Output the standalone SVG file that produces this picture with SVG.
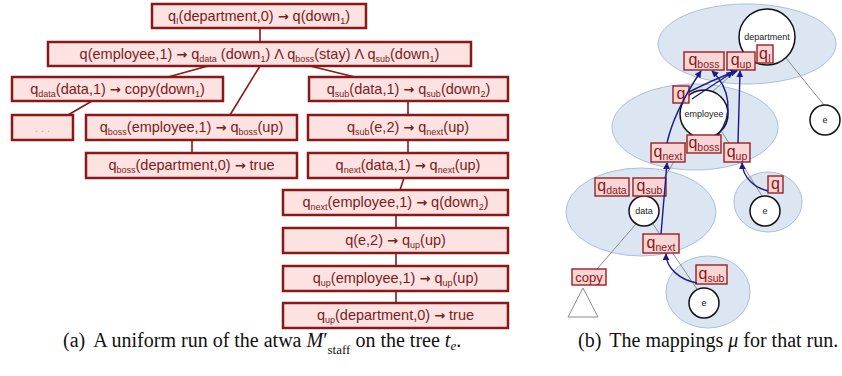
<svg xmlns="http://www.w3.org/2000/svg" width="842" height="376" viewBox="0 0 842 376">
  <defs>
    <marker id="ah" viewBox="0 0 10 10" refX="9" refY="5" markerWidth="5" markerHeight="5" orient="auto-start-reverse">
      <path d="M0,0 L10,5 L0,10 z" fill="#1b1b8a"/>
    </marker>
    <style>
      .rule rect { fill: #fde2e2; stroke: #8a1818; stroke-width: 2.5; }
      .rule text { font-family: "Liberation Sans", Arial, sans-serif; font-size: 14.5px; fill: #7a1c1c; text-anchor: middle; }
      .sb { font-size: 9px; baseline-shift: -3px; }
      .ar { font-family: "DejaVu Sans", sans-serif; font-size: 13px; font-weight: bold; }
      .edge { stroke: #8a1818; stroke-width: 1.6; fill: none; }
      .region { fill: #dce6f3; stroke: #a9c0de; stroke-width: 1; }
      .tree { stroke: #8c8c8c; stroke-width: 1; fill: none; }
      .node circle { fill: #ffffff; stroke: #111111; stroke-width: 1.5; }
      .node text { font-family: "Liberation Sans", Arial, sans-serif; font-size: 9px; fill: #222222; text-anchor: middle; }
      .st rect { fill: #f9d6d6; stroke: #9a1e1e; stroke-width: 1.4; }
      .st text { font-family: "Liberation Sans", Arial, sans-serif; font-size: 16px; fill: #8a1818; text-anchor: middle; }
      .st .s { font-size: 10.5px; baseline-shift: -3px; }
      .mu { stroke: #1b1b8a; stroke-width: 1.4; fill: none; marker-end: url(#ah); }
      .cap { font-family: "Liberation Serif", "Times New Roman", serif; font-size: 20px; fill: #111111; }
    </style>
  </defs>

  <!-- (a) run tree: connectors -->
  <g id="run-connectors">
    <line class="edge" x1="260" y1="28" x2="260" y2="42"/>
    <line class="edge" x1="208" y1="66" x2="168" y2="77"/>
    <line class="edge" x1="92" y1="101" x2="68" y2="115"/>
    <line class="edge" x1="260" y1="66" x2="230" y2="115"/>
    <line class="edge" x1="192" y1="140" x2="192" y2="153"/>
    <line class="edge" x1="310" y1="66" x2="355" y2="77"/>
    <line class="edge" x1="408" y1="101" x2="408" y2="115"/>
    <line class="edge" x1="408" y1="140" x2="408" y2="153"/>
    <line class="edge" x1="404" y1="178" x2="400" y2="190"/>
    <line class="edge" x1="396" y1="215" x2="396" y2="228"/>
    <line class="edge" x1="396" y1="253" x2="396" y2="266"/>
    <line class="edge" x1="396" y1="291" x2="396" y2="303"/>
  </g>

  <!-- (a) run tree: rules -->
  <g id="r1" class="rule"><rect x="152" y="4" width="214" height="24"/>
    <text x="259" y="21">q<tspan class="sb">I</tspan>(department,0) <tspan class="ar">→</tspan> q(down<tspan class="sb">1</tspan>)</text></g>
  <g id="r2" class="rule"><rect x="48" y="42" width="423" height="24"/>
    <text x="259.5" y="59">q(employee,1) <tspan class="ar">→</tspan> q<tspan class="sb">data</tspan> (down<tspan class="sb">1</tspan>) Λ q<tspan class="sb">boss</tspan>(stay) Λ q<tspan class="sb">sub</tspan>(down<tspan class="sb">1</tspan>)</text></g>
  <g id="r3" class="rule"><rect x="12" y="77" width="211" height="24"/>
    <text x="117.5" y="94">q<tspan class="sb">data</tspan>(data,1) <tspan class="ar">→</tspan> copy(down<tspan class="sb">1</tspan>)</text></g>
  <g id="r4" class="rule"><rect x="12" y="115" width="61" height="25"/>
    <text x="42.5" y="132" style="fill:#b9a2a2;font-size:11px">. . .</text></g>
  <g id="r5" class="rule"><rect x="86" y="115" width="211" height="25"/>
    <text x="191.5" y="132">q<tspan class="sb">boss</tspan>(employee,1) <tspan class="ar">→</tspan> q<tspan class="sb">boss</tspan>(up)</text></g>
  <g id="r6" class="rule"><rect x="86" y="153" width="211" height="25"/>
    <text x="191.5" y="170">q<tspan class="sb">boss</tspan>(department,0) <tspan class="ar">→</tspan> true</text></g>
  <g id="r7" class="rule"><rect x="309" y="77" width="199" height="24"/>
    <text x="408.5" y="94">q<tspan class="sb">sub</tspan>(data,1) <tspan class="ar">→</tspan> q<tspan class="sb">sub</tspan>(down<tspan class="sb">2</tspan>)</text></g>
  <g id="r8" class="rule"><rect x="308" y="115" width="200" height="25"/>
    <text x="408" y="132">q<tspan class="sb">sub</tspan>(e,2) <tspan class="ar">→</tspan> q<tspan class="sb">next</tspan>(up)</text></g>
  <g id="r9" class="rule"><rect x="308" y="153" width="200" height="25"/>
    <text x="408" y="170">q<tspan class="sb">next</tspan>(data,1) <tspan class="ar">→</tspan> q<tspan class="sb">next</tspan>(up)</text></g>
  <g id="r10" class="rule"><rect x="283" y="190" width="225" height="25"/>
    <text x="395.5" y="207">q<tspan class="sb">next</tspan>(employee,1) <tspan class="ar">→</tspan> q(down<tspan class="sb">2</tspan>)</text></g>
  <g id="r11" class="rule"><rect x="283" y="228" width="225" height="25"/>
    <text x="395.5" y="245">q(e,2) <tspan class="ar">→</tspan> q<tspan class="sb">up</tspan>(up)</text></g>
  <g id="r12" class="rule"><rect x="283" y="266" width="225" height="25"/>
    <text x="395.5" y="283">q<tspan class="sb">up</tspan>(employee,1) <tspan class="ar">→</tspan> q<tspan class="sb">up</tspan>(up)</text></g>
  <g id="r13" class="rule"><rect x="283" y="303" width="225" height="25"/>
    <text x="395.5" y="320">q<tspan class="sb">up</tspan>(department,0) <tspan class="ar">→</tspan> true</text></g>

  <!-- (b) node regions -->
  <g id="regions">
    <ellipse class="region" cx="747" cy="44" rx="89" ry="40"/>
    <ellipse class="region" cx="695" cy="127" rx="83" ry="43"/>
    <ellipse class="region" cx="641" cy="212" rx="75" ry="44"/>
    <ellipse class="region" cx="768" cy="202" rx="34" ry="30"/>
    <ellipse class="region" cx="708" cy="292" rx="42" ry="36"/>
  </g>

  <!-- (b) tree edges -->
  <g id="tree-edges">
    <line class="tree" x1="786" y1="58" x2="824" y2="105"/>
    <line class="tree" x1="748" y1="60" x2="712" y2="92"/>
    <line class="tree" x1="690" y1="136" x2="652" y2="197"/>
    <line class="tree" x1="722" y1="132" x2="762" y2="196"/>
    <line class="tree" x1="636" y1="224" x2="597" y2="269"/>
    <line class="tree" x1="653" y1="224" x2="697" y2="289"/>
    <polygon class="tree" points="583,288 568,317 598,317"/>
  </g>

  <!-- (b) tree nodes -->
  <g id="n-department" class="node"><circle cx="767" cy="37" r="28"/><text x="767" y="40">department</text></g>
  <g id="n-e1" class="node"><circle cx="825" cy="120" r="15"/><text x="825" y="123">e</text></g>
  <g id="n-employee" class="node"><circle cx="704" cy="114" r="24"/><text x="704" y="117">employee</text></g>
  <g id="n-data" class="node"><circle cx="644" cy="211" r="15"/><text x="644" y="214">data</text></g>
  <g id="n-e2" class="node"><circle cx="765" cy="211" r="15"/><text x="765" y="214">e</text></g>
  <g id="n-e3" class="node"><circle cx="704" cy="303" r="15"/><text x="704" y="306">e</text></g>

  <!-- (b) states attached to nodes -->
  <g id="s-qI" class="st"><rect x="757" y="45" width="16" height="18"/><text x="765" y="59">q<tspan class="s">I</tspan></text></g>
  <g id="s-qboss-dep" class="st"><rect x="684" y="52" width="40" height="18"/><text x="704" y="65">q<tspan class="s">boss</tspan></text></g>
  <g id="s-qup-dep" class="st"><rect x="727" y="52" width="28" height="18"/><text x="741" y="65">q<tspan class="s">up</tspan></text></g>
  <g id="s-q-emp" class="st"><rect x="673" y="86" width="16" height="17"/><text x="681" y="99">q</text></g>
  <g id="s-qnext-emp" class="st"><rect x="651" y="143" width="34" height="19"/><text x="668" y="157">q<tspan class="s">next</tspan></text></g>
  <g id="s-qboss-emp" class="st"><rect x="687" y="135" width="34" height="18"/><text x="704" y="148">q<tspan class="s">boss</tspan></text></g>
  <g id="s-qup-emp" class="st"><rect x="724" y="143" width="26" height="19"/><text x="737" y="157">q<tspan class="s">up</tspan></text></g>
  <g id="s-qdata" class="st"><rect x="595" y="178" width="34" height="18"/><text x="612" y="191">q<tspan class="s">data</tspan></text></g>
  <g id="s-qsub-data" class="st"><rect x="633" y="178" width="33" height="18"/><text x="649.5" y="191">q<tspan class="s">sub</tspan></text></g>
  <g id="s-qnext-data" class="st"><rect x="643" y="234" width="36" height="19"/><text x="661" y="248">q<tspan class="s">next</tspan></text></g>
  <g id="s-copy" class="st"><rect x="572" y="269" width="34" height="16"/><text x="589" y="282" style="font-size:13px">copy</text></g>
  <g id="s-q-e" class="st"><rect x="768" y="176" width="15" height="17"/><text x="775.5" y="189">q</text></g>
  <g id="s-qsub-e" class="st"><rect x="696" y="265" width="31" height="19"/><text x="711.5" y="279">q<tspan class="s">sub</tspan></text></g>

  <!-- (b) mapping arrows -->
  <g id="mappings">
    <path class="mu" d="M667,143 C672,120 685,95 701,71"/>
    <path class="mu" d="M689,92 C705,84 722,76 737,71"/>
    <path class="mu" d="M692,99 C708,88 721,80 733,72"/>
    <path class="mu" d="M718,135 C734,114 730,88 712,71"/>
    <path class="mu" d="M738,143 L740,71"/>
    <path class="mu" d="M661,234 L667,163"/>
    <path class="mu" d="M697,283 C680,280 666,268 666,254"/>
    <path class="mu" d="M768,191 C755,188 743,178 742,163"/>
  </g>

  <!-- captions -->
  <text class="cap" x="63" y="347">(a)<tspan dx="8">A uniform run of the atwa </tspan><tspan font-style="italic">M</tspan>′<tspan font-size="13" baseline-shift="-7px">staff</tspan><tspan> on the tree </tspan><tspan font-style="italic">t<tspan font-size="13" baseline-shift="-3px">e</tspan></tspan>.</text>
  <text class="cap" x="578" y="347">(b)<tspan dx="8">The mappings </tspan><tspan font-style="italic">μ</tspan> for that run.</text>
</svg>
